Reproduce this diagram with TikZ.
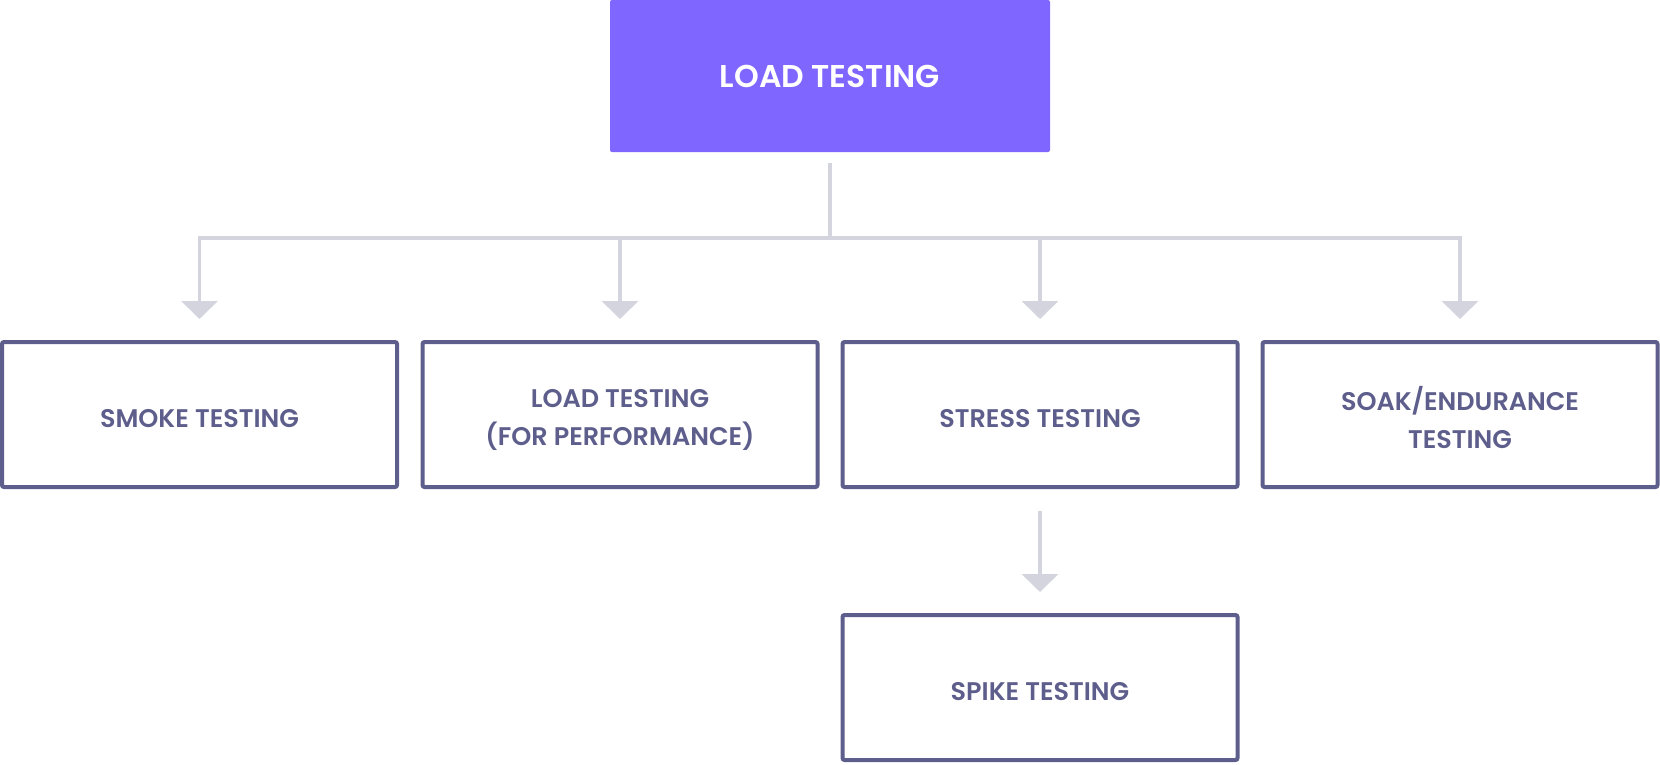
\documentclass[tikz,border=0pt]{standalone}
\usepackage{fontspec}
\setmainfont{Poppins}[BoldFont={Poppins SemiBold}]
\usetikzlibrary{arrows.meta}
\definecolor{topfill}{HTML}{7F66FF}
\definecolor{boxline}{HTML}{5E5E8C}
\definecolor{connline}{HTML}{D4D4DE}
\tikzset{
  topbox/.style={fill=topfill, draw=none, rounded corners=2pt, minimum width=440pt, minimum height=152pt, inner sep=0pt, text depth=0pt, text=white, font=\fontsize{31.5}{36}\selectfont\bfseries, align=center},
  subbox/.style={draw=boxline, line width=4pt, rounded corners=2pt, minimum width=395pt, minimum height=145pt, inner sep=0pt},
  subtext/.style={inner sep=0pt, text depth=0pt, text=boxline, font=\fontsize{25.5}{38}\selectfont\bfseries, align=center},
  conn/.style={draw=connline, line width=3.6pt},
  arr/.style={conn, -{Triangle[width=36pt,length=18pt,fill=connline]}, shorten >=21pt}
}
\begin{document}
\begin{tikzpicture}[x=1pt,y=-1pt]
\useasboundingbox (0,0) rectangle (1660,764);
\node[topbox] (top) at (830,76) {LOAD TESTING};
\node[subbox] (b1) at (199.5,414.5) {};
\node[subbox] (b2) at (620,414.5) {};
\node[subbox] (b3) at (1040,414.5) {};
\node[subbox] (b4) at (1460,414.5) {};
\node[subbox] (b5) at (1040,687.5) {};
\node[subtext] (t1) at ([yshift=-4pt]b1.center) {SMOKE TESTING};
\node[subtext] (t2) at ([yshift=-3pt]b2.center) {LOAD TESTING\\(FOR PERFORMANCE)};
\node[subtext] (t3) at ([yshift=-4pt]b3.center) {STRESS TESTING};
\node[subtext] (t4) at ([yshift=-3pt]b4.center) {SOAK/ENDURANCE\\TESTING};
\node[subtext] (t5) at ([yshift=-4pt]b5.center) {SPIKE TESTING};
\coordinate (j) at (830,238);
\coordinate (j1) at (199.5,238);
\coordinate (j2) at (620,238);
\coordinate (j3) at (1040,238);
\coordinate (j4) at (1460,238);
\coordinate (s5) at (1040,511);
\draw[conn, shorten <=11pt] (top.south) -- (j);
\draw[conn, line cap=rect] (j1) -- (j4);
\draw[arr] (j1) -- (b1.north);
\draw[arr] (j2) -- (b2.north);
\draw[arr] (j3) -- (b3.north);
\draw[arr] (j4) -- (b4.north);
\draw[arr] (s5) -- (b5.north);
\end{tikzpicture}
\end{document}
